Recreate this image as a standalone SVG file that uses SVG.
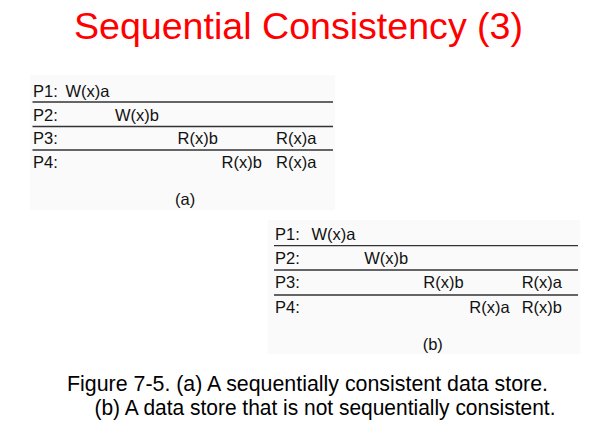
<svg xmlns="http://www.w3.org/2000/svg" width="600" height="434" viewBox="0 0 600 434">
<style>
.t{font-family:"Liberation Sans",Arial,sans-serif;font-size:16.5px;fill:#111}
.cap{font-family:"Liberation Sans",Arial,sans-serif;font-size:21.3px;fill:#000}
.title{font-family:"Liberation Sans",Arial,sans-serif;font-size:37.6px;fill:#ff0000}
.ln{stroke:#333;stroke-width:1.3}
.bg{fill:#fafafa}
</style>
<rect width="600" height="434" fill="#ffffff"/>
<text class="title" x="298.5" y="38.5" text-anchor="middle">Sequential Consistency (3)</text>
<g id="panel-a">
<rect class="bg" x="30" y="75" width="305" height="135"/>
<g id="lines-a">
<line class="ln" x1="32.5" y1="102" x2="333" y2="102"/>
<line class="ln" x1="32.5" y1="126.5" x2="333" y2="126.5"/>
<line class="ln" x1="32.5" y1="150" x2="333" y2="150"/>
</g>
<text class="t" x="33" y="96.5">P1:</text>
<text class="t" x="65.5" y="96.5">W(x)a</text>
<text class="t" x="33" y="120.5">P2:</text>
<text class="t" x="115" y="120.5">W(x)b</text>
<text class="t" x="33" y="144">P3:</text>
<text class="t" x="177.5" y="144">R(x)b</text>
<text class="t" x="276" y="144">R(x)a</text>
<text class="t" x="33" y="168">P4:</text>
<text class="t" x="221.5" y="168">R(x)b</text>
<text class="t" x="276" y="168">R(x)a</text>
<text class="t" x="175" y="205">(a)</text>
</g>
<g id="panel-b">
<rect class="bg" x="268" y="220" width="312" height="134"/>
<g id="lines-b">
<line class="ln" x1="274" y1="245.7" x2="578" y2="245.7"/>
<line class="ln" x1="274" y1="270" x2="578" y2="270"/>
<line class="ln" x1="274" y1="295" x2="578" y2="295"/>
</g>
<text class="t" x="275" y="240">P1:</text>
<text class="t" x="311.5" y="240">W(x)a</text>
<text class="t" x="275" y="264.3">P2:</text>
<text class="t" x="364.3" y="264.3">W(x)b</text>
<text class="t" x="275" y="288.3">P3:</text>
<text class="t" x="423.3" y="288.3">R(x)b</text>
<text class="t" x="521.7" y="288.3">R(x)a</text>
<text class="t" x="275" y="312.5">P4:</text>
<text class="t" x="469.3" y="312.5">R(x)a</text>
<text class="t" x="521.7" y="312.5">R(x)b</text>
<text class="t" x="422.7" y="350">(b)</text>
</g>
<text class="cap" x="67" y="391" textLength="481" lengthAdjust="spacingAndGlyphs">Figure 7-5. (a) A sequentially consistent data store.</text>
<text class="cap" x="94.5" y="415" textLength="461" lengthAdjust="spacingAndGlyphs">(b) A data store that is not sequentially consistent.</text>
</svg>
